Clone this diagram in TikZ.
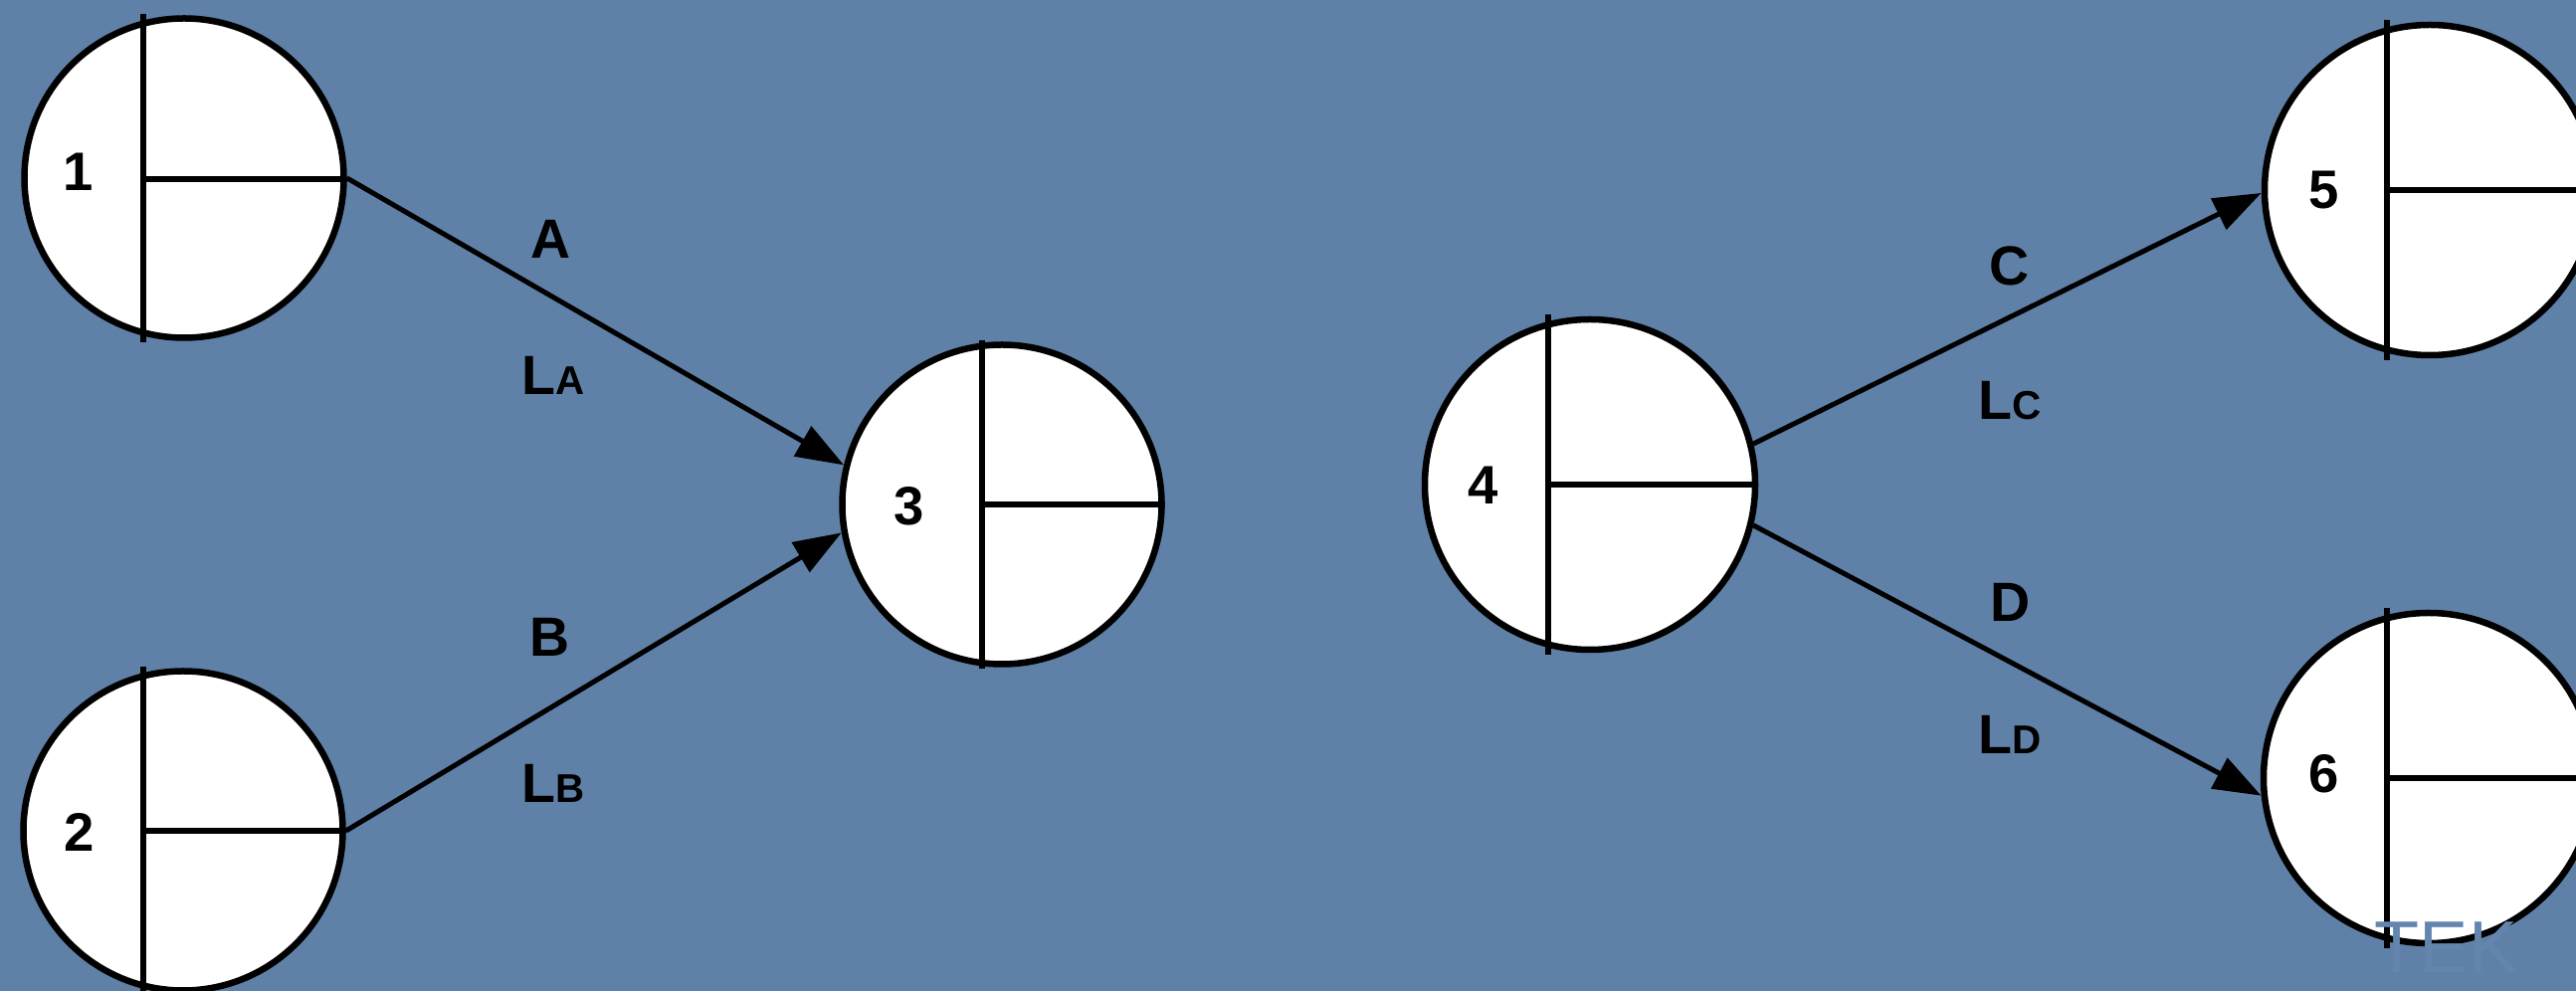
\documentclass[tikz,border=0pt]{standalone}
\usepackage{fontspec}
\setmainfont{Liberation Sans}
\usetikzlibrary{arrows.meta,calc}
\definecolor{bgblue}{RGB}{95,129,167}
\definecolor{wmblue}{RGB}{100,134,174}
\begin{document}
\begin{tikzpicture}[
  evt/.style={circle, draw=black, fill=white, line width=0.065cm, inner sep=0pt, minimum size=#1},
  num/.style={font=\fontsize{15.5}{16}\selectfont\bfseries, inner sep=0pt},
  act/.style={font=\fontsize{15.8}{16}\selectfont\bfseries, inner sep=0pt, anchor=base},
  dur/.style={font=\fontsize{15.8}{16}\selectfont\bfseries, inner sep=0pt, anchor=base west},
  conn/.style={line width=0.05cm, -{Triangle[length=0.48cm,width=0.34cm]}},
  divl/.style={line width=0.052cm}
]
\useasboundingbox (0,0) rectangle (25.89,9.96);
\clip (0,0) rectangle (25.89,9.96);
\fill[bgblue] (0,0) rectangle (25.89,9.96);

% events
\node[evt=3.21cm] (n1) at (1.85,8.17) {};
\node[evt=3.21cm] (n2) at (1.84,1.61) {};
\node[evt=3.21cm] (n3) at (10.07,4.89) {};
\node[evt=3.32cm] (n4) at (15.98,5.09) {};
\node[evt=3.32cm] (n5) at (24.42,8.05) {};
\node[evt=3.32cm] (n6) at (24.41,2.14) {};

% dividers
\draw[divl] ($(n1.center)+(-0.41,1.65)$) -- ($(n1.center)+(-0.41,-1.65)$);
\draw[divl] ($(n1.center)+(-0.41,-0.01)$) -- ($(n1.east)+(0,-0.01)$);
\draw[divl] ($(n2.center)+(-0.40,1.65)$) -- ($(n2.center)+(-0.40,-1.65)$);
\draw[divl] ($(n2.center)+(-0.40,0)$) -- (n2.east);
\draw[divl] ($(n3.center)+(-0.20,1.65)$) -- ($(n3.center)+(-0.20,-1.65)$);
\draw[divl] ($(n3.center)+(-0.20,0)$) -- (n3.east);
\draw[divl] ($(n4.center)+(-0.42,1.71)$) -- ($(n4.center)+(-0.42,-1.71)$);
\draw[divl] ($(n4.center)+(-0.42,0)$) -- (n4.east);
\draw[divl] ($(n5.center)+(-0.43,1.71)$) -- ($(n5.center)+(-0.43,-1.71)$);
\draw[divl] ($(n5.center)+(-0.43,0)$) -- (n5.east);
\draw[divl] ($(n6.center)+(-0.42,1.71)$) -- ($(n6.center)+(-0.42,-1.71)$);
\draw[divl] ($(n6.center)+(-0.42,0)$) -- (n6.east);

% event numbers
\node[num] (l1) at (0.79,8.23) {1};
\node[num] (l2) at (0.80,1.60) {2};
\node[num] (l3) at (9.14,4.87) {3};
\node[num] (l4) at (14.91,5.08) {4};
\node[num] (l5) at (23.36,8.05) {5};
\node[num] (l6) at (23.36,2.18) {6};

% activities
\draw[conn] (n1.east) -- (n3.166);
\draw[conn] (n2.east) -- (n3.190);
\draw[conn] (n4.14) -- (n5.181);
\draw[conn] (n4.346) -- (n6.186);

% activity labels
\node[act] (ta) at (5.54,7.36) {A};
\node[dur] (da) at (5.24,5.99) {L{\fontsize{11.5}{12}\selectfont A}};
\node[act] (tb) at (5.53,3.36) {B};
\node[dur] (db) at (5.24,1.89) {L{\fontsize{11.5}{12}\selectfont B}};
\node[act] (tc) at (20.20,7.09) {C};
\node[dur] (dc) at (19.88,5.74) {L{\fontsize{11.5}{12}\selectfont C}};
\node[act] (td) at (20.21,3.71) {D};
\node[dur] (dd) at (19.88,2.38) {L{\fontsize{11.5}{12}\selectfont D}};

% watermark fragment
\node[font=\fontsize{21}{21}\selectfont, text=wmblue, inner sep=0pt, anchor=base west] (wm) at (23.86,0.18) {TEK};
\end{tikzpicture}
\end{document}
